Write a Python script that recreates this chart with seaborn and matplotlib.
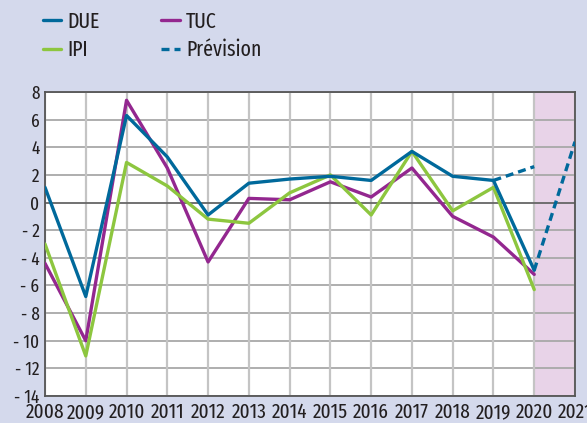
import matplotlib
matplotlib.use("Agg")
import matplotlib.pyplot as plt
import seaborn as sns
import pandas as pd

years = list(range(2008, 2021))
due = [1.1, -6.8, 6.3, 3.3, -0.9, 1.4, 1.7, 1.9, 1.6, 3.7, 1.9, 1.6, -4.9]
tuc = [-4.4, -10.0, 7.4, 2.5, -4.3, 0.3, 0.2, 1.5, 0.4, 2.5, -1.0, -2.5, -5.2]
ipi = [-3.0, -11.1, 2.9, 1.2, -1.2, -1.5, 0.7, 2.0, -0.9, 3.7, -0.6, 1.1, -6.3]
prev_years_a = [2019, 2020]
prev_vals_a = [1.6, 2.6]
prev_years_b = [2020, 2021]
prev_vals_b = [-4.9, 4.4]
xtick_years = list(range(2008, 2022))
ytick_vals = list(range(-14, 9, 2))
ytick_labels = [("- " + str(-v)) if v < 0 else str(v) for v in ytick_vals]

C_DUE = "#00699b"
C_TUC = "#93278f"
C_IPI = "#8dc63f"
BG = "#d4d9ec"
PINK = "#e8d3e8"
TXT = "#231f20"

sns.set_theme(style="white")
plt.rcParams['font.family'] = ['Fira Sans Extra Condensed', 'DejaVu Sans']

fig = plt.figure(figsize=(5.87, 4.23), dpi=100, facecolor=BG)
ax = fig.add_axes([45/587, 1-396/423, (575-45)/587, (396-92)/423])
ax.set_facecolor("white")

ax.axvspan(2020, 2021, color=PINK, zorder=0, lw=0)

for y in ytick_vals:
    if y != 0:
        ax.axhline(y, color="#a8a8a8", lw=1.3, zorder=1)
for x in xtick_years:
    ax.axvline(x, color="#c4c4c4", lw=1.6, zorder=1)
ax.axhline(0, color="#666666", lw=1.3, zorder=1)

df = pd.DataFrame({"year": years, "DUE": due, "TUC": tuc, "IPI": ipi})
lw = 2.4
dash = (0, (2.4, 1.5))
sns.lineplot(data=df, x="year", y="TUC", color=C_TUC, lw=lw, ax=ax, label="TUC", zorder=3)
sns.lineplot(data=df, x="year", y="IPI", color=C_IPI, lw=lw, ax=ax, label="IPI", zorder=3)
sns.lineplot(data=df, x="year", y="DUE", color=C_DUE, lw=lw, ax=ax, label="DUE", zorder=4)
sns.lineplot(x=prev_years_a, y=prev_vals_a, color=C_DUE, lw=lw, ls=dash, ax=ax,
             label="Prévision", zorder=4)
sns.lineplot(x=prev_years_b, y=prev_vals_b, color=C_DUE, lw=lw, ls=dash, ax=ax, zorder=4)

ax.set_xlim(2008, 2021)
ax.set_ylim(-14, 8)
ax.set_xticks(xtick_years)
ax.set_xticklabels([str(y) for y in xtick_years], fontsize=15, color=TXT)
ax.set_yticks(ytick_vals)
ax.set_yticklabels(ytick_labels, fontsize=13.5, color=TXT)
ax.tick_params(axis="both", length=0)
ax.tick_params(axis="y", pad=4)
ax.tick_params(axis="x", pad=5)
ax.set_xlabel("")
ax.set_ylabel("")
for s in ax.spines.values():
    s.set_color("#555555")
    s.set_linewidth(1.3)
    s.set_visible(True)

handles, labels = ax.get_legend_handles_labels()
ax.get_legend().remove()
order = ["DUE", "IPI", "TUC", "Prévision"]
hmap = dict(zip(labels, handles))
fig.legend([hmap[k] for k in order], order, loc="upper left",
           bbox_to_anchor=(43/587, 1-11/423), ncol=2, frameon=False,
           fontsize=15.5, handlelength=0.85, handletextpad=0.3,
           columnspacing=2.85, labelspacing=0.33, borderpad=0, borderaxespad=0,
           labelcolor=TXT)

fig.savefig("out.png", dpi=100, facecolor=BG)
